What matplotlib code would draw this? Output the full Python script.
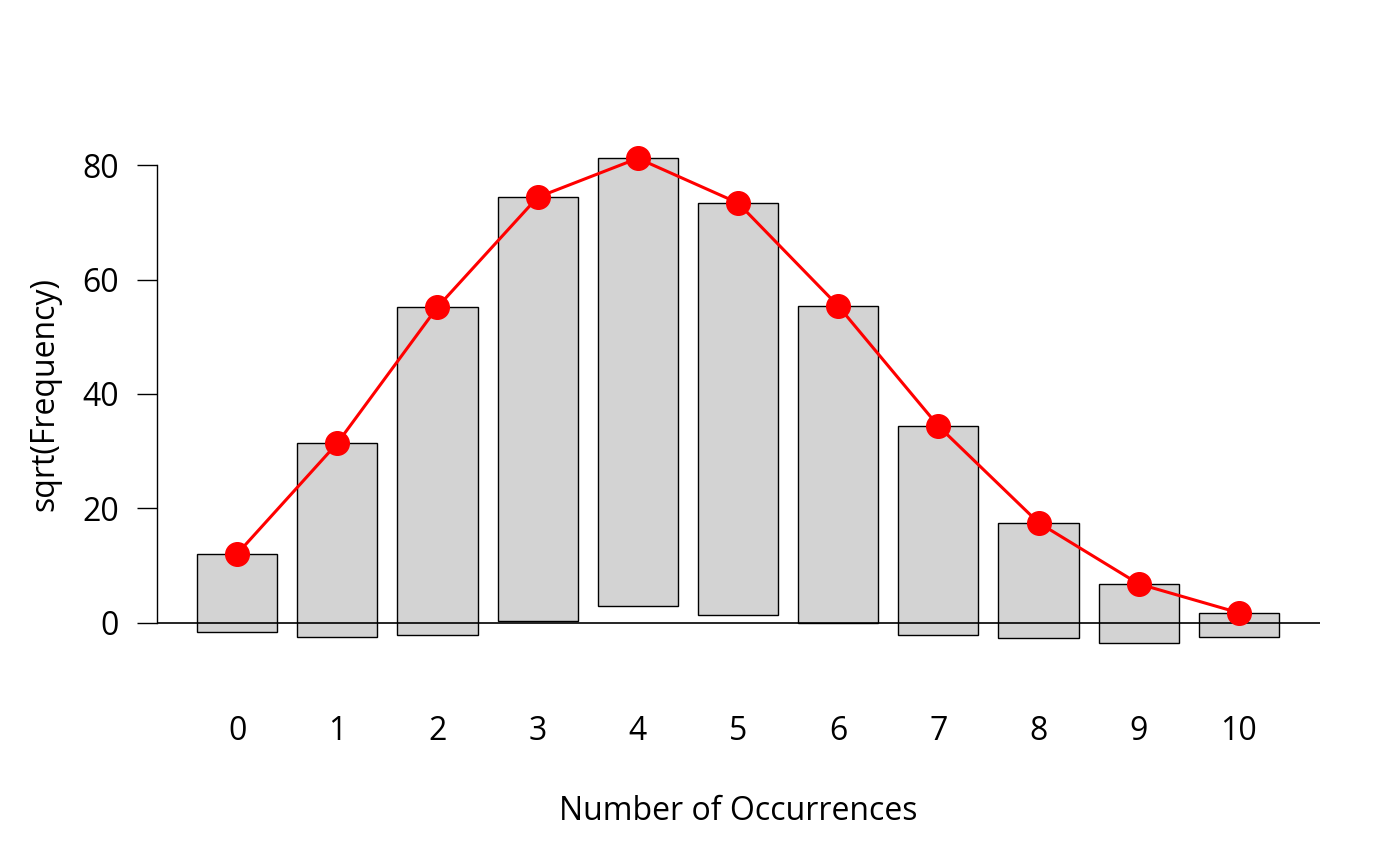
import matplotlib
matplotlib.use("Agg")
import matplotlib.pyplot as plt
import numpy as np

plt.rcParams['font.family'] = ['Open Sans', 'DejaVu Sans']

# hanging rootogram: bars hang from the fitted curve
occurrences = list(range(11))
fitted_sqrt = [12.05, 31.4, 55.2, 74.4, 81.2, 73.4, 55.4, 34.4, 17.5, 6.8, 1.75]
observed_sqrt = [13.6, 33.85, 57.3, 74.05, 78.2, 72.0, 55.4, 36.5, 20.1, 10.3, 4.2]

x = np.array(occurrences)
top = np.array(fitted_sqrt)
bottom = top - np.array(observed_sqrt)

fig = plt.figure(figsize=(14, 8.66), dpi=100)
ax = fig.add_axes([157 / 1400, 1 - 680 / 866, (1320 - 157) / 1400, (680 - 108) / 866])

ax.bar(x, np.array(observed_sqrt), width=0.8, bottom=bottom,
       color='lightgray', edgecolor='black', linewidth=1.0, zorder=2)
ax.axhline(0, color='black', linewidth=1.2, zorder=3)
ax.plot(x, top, color='red', linewidth=2.2, marker='o', markersize=17, zorder=4)

ax.set_xlim(-0.8, 10.81)
ax.set_ylim(-10, 90)

for s in ['top', 'right', 'bottom']:
    ax.spines[s].set_visible(False)
ax.spines['left'].set_bounds(0, 80)
ax.spines['left'].set_linewidth(1.0)

ax.set_yticks([0, 20, 40, 60, 80])
ax.set_xticks(occurrences)
ax.tick_params(axis='y', labelsize=23, length=14.4, width=1.0, pad=13)
ax.tick_params(axis='x', labelsize=23, length=0, pad=25)

ax.set_xlabel("Number of Occurrences", fontsize=23, labelpad=34)
ax.set_ylabel("sqrt(Frequency)", fontsize=23, labelpad=15)

fig.savefig("out.png", dpi=100)
